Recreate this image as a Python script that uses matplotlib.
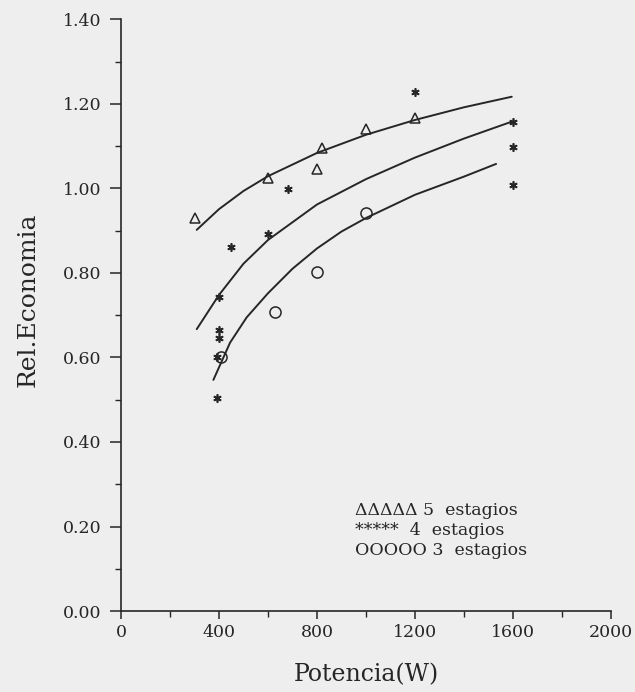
import numpy as np
import matplotlib
matplotlib.use("Agg")
import matplotlib.pyplot as plt
from matplotlib.ticker import MultipleLocator, FormatStrFormatter

plt.rcParams['font.family'] = ['DejaVu Serif']

# ---- data ----
# 5 estagios (triangles)
p5 = [300, 600, 800, 820, 1000, 1200]
e5 = [0.929, 1.024, 1.046, 1.095, 1.140, 1.166]
# 4 estagios (asterisks)
p4 = [390, 390, 400, 400, 400, 450, 600, 680, 1200, 1600, 1600, 1600]
e4 = [0.503, 0.602, 0.646, 0.665, 0.744, 0.862, 0.892, 0.998, 1.227, 1.156, 1.097, 1.008]
# 3 estagios (circles)
p3 = [410, 630, 800, 1000]
e3 = [0.602, 0.707, 0.803, 0.941]

# trend curves as drawn in the figure
c5_x = [309, 400, 500, 600, 800, 1000, 1200, 1400, 1595]
c5_y = [0.902, 0.951, 0.994, 1.029, 1.084, 1.127, 1.162, 1.192, 1.217]
c4_x = [309, 400, 500, 600, 800, 1000, 1200, 1400, 1595]
c4_y = [0.667, 0.748, 0.822, 0.878, 0.962, 1.022, 1.073, 1.118, 1.158]
c3_x = [377, 445, 513, 600, 700, 800, 900, 1000, 1200, 1400, 1531]
c3_y = [0.547, 0.635, 0.695, 0.752, 0.810, 0.858, 0.898, 0.930, 0.985, 1.028, 1.058]

legend_rows = ['\u0394\u0394\u0394\u0394\u0394 5  estagios',
               '*****  4  estagios',
               'OOOOO 3  estagios']

BG = '#eeeeee'
INK = '#262626'

fig = plt.figure(figsize=(6.35, 6.92), dpi=100, facecolor=BG)
ax = fig.add_axes([0.1906, 0.117, 0.7716, 0.855])
ax.set_facecolor(BG)

for cx, cy in [(c5_x, c5_y), (c4_x, c4_y), (c3_x, c3_y)]:
    ax.plot(cx, cy, color=INK, lw=1.4, solid_capstyle='round')

ax.plot(p5, e5, ls='none', marker='^', ms=7, mfc='none', mec=INK, mew=1.1)
ax.plot(p4, e4, ls='none', marker=(6, 2, 0), ms=6, mec=INK, mew=1.2)
ax.plot(p3, e3, ls='none', marker='o', ms=8, mfc='none', mec=INK, mew=1.1)

ax.set_xlim(0, 2000)
ax.set_ylim(0, 1.40)
ax.xaxis.set_major_locator(MultipleLocator(400))
ax.xaxis.set_minor_locator(MultipleLocator(200))
ax.yaxis.set_major_locator(MultipleLocator(0.2))
ax.yaxis.set_minor_locator(MultipleLocator(0.1))
ax.yaxis.set_major_formatter(FormatStrFormatter('%.2f'))

for s in ('top', 'right'):
    ax.spines[s].set_visible(False)
for s in ('left', 'bottom'):
    ax.spines[s].set_color(INK)
    ax.spines[s].set_linewidth(1.2)

ax.tick_params(which='major', direction='out', width=1.1, colors=INK, labelsize=12.5)
ax.tick_params(axis='y', which='major', length=8, pad=6)
ax.tick_params(axis='x', which='major', length=6, pad=3)
ax.tick_params(which='minor', direction='out', length=4, width=1.0, colors=INK)

fig.text(28 / 635, 1 - 300 / 692, 'Rel.Economia', fontsize=18, color=INK,
         rotation=90, ha='center', va='center')
ax.set_xlabel('Potencia(W)', fontsize=17, color=INK, labelpad=16)

for i, row in enumerate(legend_rows):
    ax.text(955, 0.237 - i * 0.047, row, fontsize=12.5, color=INK,
            ha='left', va='center')

fig.savefig('out.png', dpi=100, facecolor=BG)
